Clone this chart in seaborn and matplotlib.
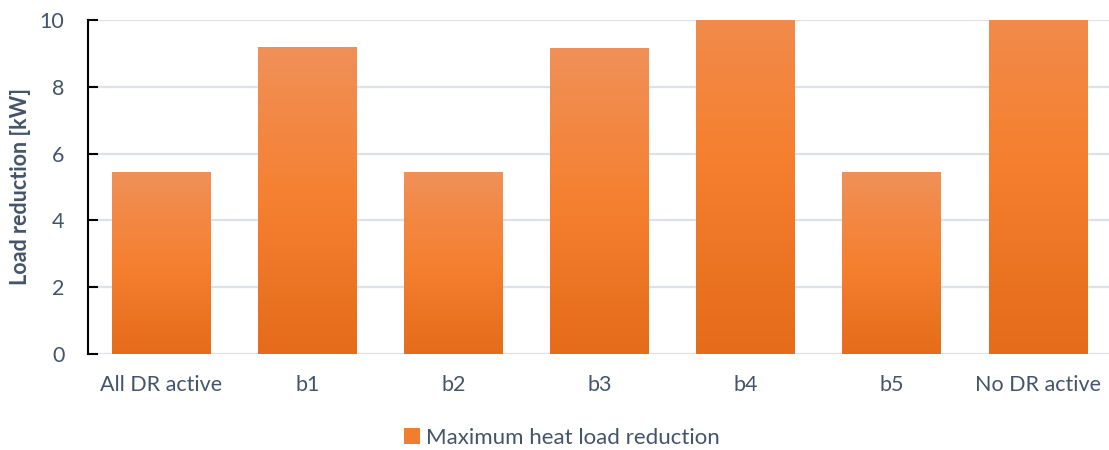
import numpy as np
import pandas as pd
import matplotlib
matplotlib.use("Agg")
import matplotlib.pyplot as plt
from matplotlib.colors import LinearSegmentedColormap
import seaborn as sns

categories = ["All DR active", "b1", "b2", "b3", "b4", "b5", "No DR active"]
load_reduction = [5.42, 9.19, 5.42, 9.16, 12.0, 5.42, 12.0]
series_name = "Maximum heat load reduction"
y_ticks = [0, 2, 4, 6, 8, 10]

text_color = "#44546A"
grid_color = "#DDE1E8"

sns.set_theme(style="white")
plt.rcParams["font.family"] = ["Lato", "DejaVu Sans"]

df = pd.DataFrame({"category": categories, "value": load_reduction, "series": series_name})

fig = plt.figure(figsize=(11.09, 4.5), dpi=100)
ax = fig.add_axes([0.0794, 0.2133, 0.9226, 0.7423])

sns.barplot(data=df, x="category", y="value", hue="series", ax=ax,
            palette=["#F07E2E"], width=0.677, saturation=1, legend=False)

ax.set_yticks(y_ticks)
ax.yaxis.grid(True, color=grid_color, linewidth=1.6)
ax.set_axisbelow(True)

# vertical gradient fill for each bar, drawn over its own rectangle
grad = LinearSegmentedColormap.from_list(
    "bar_grad", [(0.0, "#E46C1A"), (0.5, "#F58030"), (1.0, "#F09058")])
column = np.linspace(0, 1, 256).reshape(-1, 1)
for patch in list(ax.patches):
    x0, y0 = patch.get_x(), patch.get_y()
    w, h = patch.get_width(), patch.get_height()
    ax.imshow(column, cmap=grad, origin="lower", aspect="auto",
              extent=[x0, x0 + w, y0, y0 + h], zorder=patch.get_zorder() + 0.1)
    patch.set_edgecolor("none")
ax.set_xlim(-0.5, len(categories) - 0.5)
ax.set_ylim(0, 10)

for side in ["top", "right", "bottom"]:
    ax.spines[side].set_visible(False)
ax.spines["left"].set_color("black")
ax.spines["left"].set_linewidth(1.5)
ax.spines["left"].set_zorder(5)

ax.tick_params(axis="y", direction="in", length=7, width=1.5, color="black",
               labelsize=15.5, labelcolor=text_color, pad=17, left=True)
ax.tick_params(axis="x", length=0, labelsize=15.5, labelcolor=text_color, pad=15)

ax.set_xlabel("")
ax.set_ylabel("Load reduction [kW]", fontsize=15.5, fontweight="bold",
              color=text_color, labelpad=6)

handle = plt.Rectangle((0, 0), 1, 1, facecolor="#F07E2E", edgecolor="none")
fig.legend([handle], [series_name], loc="center", bbox_to_anchor=(0.507, 0.027),
           frameon=False, fontsize=16, labelcolor=text_color,
           handlelength=0.7, handleheight=0.7, handletextpad=0.3)

fig.savefig("out.png", dpi=100)
